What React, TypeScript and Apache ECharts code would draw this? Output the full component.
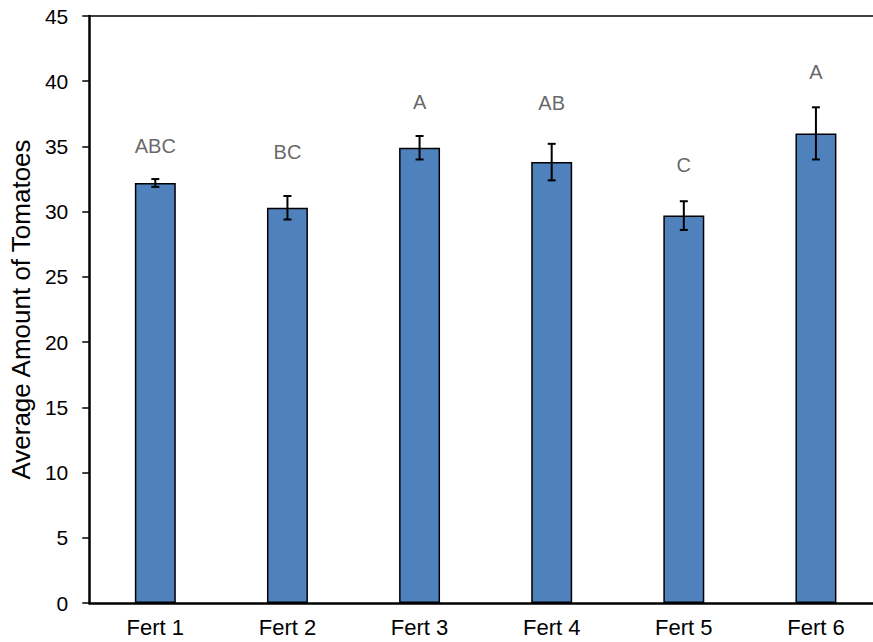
import React, { useEffect, useRef } from "react";
import * as echarts from "echarts";

const categories = ["Fert 1", "Fert 2", "Fert 3", "Fert 4", "Fert 5", "Fert 6"];
const means = [32.2, 30.3, 34.9, 33.8, 29.7, 36.0];
const errors = [0.3, 0.9, 0.9, 1.4, 1.1, 2.0];
const letters = ["ABC", "BC", "A", "AB", "C", "A"];
const letterY = [35.0, 34.6, 38.4, 38.3, 33.6, 40.7];
const yTicks = { min: 0, max: 45, interval: 5 };

const FONT = "'Liberation Sans', Arial, sans-serif";

export default function App() {
  const ref = useRef<HTMLDivElement>(null);
  useEffect(() => {
    document.body.style.margin = "0";
    if (!ref.current) return;
    const chart = echarts.init(ref.current, undefined, { renderer: "svg" });
    chart.setOption({
      animation: false,
      grid: { left: 89, right: 0, top: 16, bottom: 39, containLabel: false },
      xAxis: [
        {
          type: "category",
          data: categories,
          axisLine: { show: true, lineStyle: { color: "#000", width: 2.5 } },
          axisTick: { show: false },
          axisLabel: { color: "#000", fontSize: 22, fontFamily: FONT, margin: 13 },
          splitLine: { show: false },
        },
        {
          type: "category",
          data: categories,
          position: "top",
          axisLine: { show: true, lineStyle: { color: "#000", width: 1.5 } },
          axisTick: { show: false },
          axisLabel: { show: false },
          splitLine: { show: false },
        },
      ],
      yAxis: {
        type: "value",
        min: yTicks.min,
        max: yTicks.max,
        interval: yTicks.interval,
        name: "Average Amount of Tomatoes",
        nameLocation: "middle",
        nameRotate: 90,
        nameGap: 52,
        nameTextStyle: { color: "#000", fontSize: 26, fontFamily: FONT },
        axisLine: { show: true, lineStyle: { color: "#000", width: 2.5 } },
        axisTick: { show: true, length: 7, lineStyle: { color: "#000", width: 1.5 } },
        axisLabel: { color: "#000", fontSize: 21, fontFamily: FONT, margin: 21 },
        splitLine: { show: false },
      },
      series: [
        {
          type: "bar",
          data: means,
          barWidth: "31%",
          itemStyle: { color: "#4F81BD", borderColor: "#000", borderWidth: 1.5 },
          z: 2,
        },
        {
          type: "custom",
          data: means.map((m, i) => [i, m - errors[i], m + errors[i]]),
          z: 5,
          renderItem: (params: any, api: any) => {
            const x = api.value(0);
            const lo = api.coord([x, api.value(1)]);
            const hi = api.coord([x, api.value(2)]);
            const cap = 4;
            const style = { stroke: "#000", lineWidth: 2 };
            return {
              type: "group",
              children: [
                { type: "line", shape: { x1: lo[0], y1: lo[1], x2: hi[0], y2: hi[1] }, style },
                { type: "line", shape: { x1: lo[0] - cap, y1: lo[1], x2: lo[0] + cap, y2: lo[1] }, style },
                { type: "line", shape: { x1: hi[0] - cap, y1: hi[1], x2: hi[0] + cap, y2: hi[1] }, style },
              ],
            };
          },
        },
        {
          type: "scatter",
          data: letterY.map((v, i) => [i, v]),
          symbolSize: 0,
          z: 6,
          label: {
            show: true,
            position: "inside",
            formatter: (p: any) => letters[p.dataIndex],
            color: "#404040",
            fontSize: 20,
            fontFamily: FONT,
          },
        },
      ],
    });
    return () => chart.dispose();
  }, []);
  return (
    <div style={{ width: 873, height: 642, overflow: "hidden", position: "relative" }}>
      <div ref={ref} style={{ width: 882, height: 642 }} />
    </div>
  );
}
